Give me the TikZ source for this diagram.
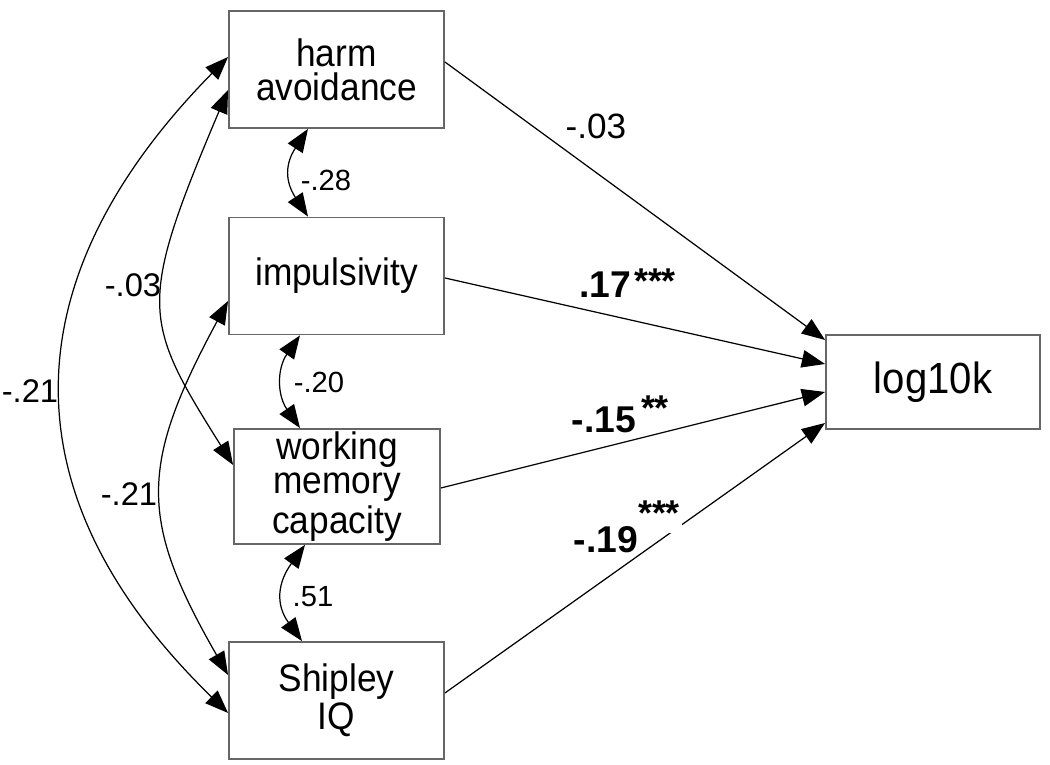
\documentclass[tikz,border=0pt]{standalone}
\usepackage{fontspec}
\setmainfont{Liberation Sans}
\newfontfamily\boxfont[FakeStretch=0.92]{Liberation Sans}
\usepackage{tikz}
\usetikzlibrary{arrows.meta}
\usetikzlibrary{calc}

\begin{document}
\begin{tikzpicture}[x=0.01cm,y=-0.01cm,
    var/.style={draw=black!60,line width=0.5pt,inner sep=0pt,align=center,
      minimum width=2.15cm,minimum height=1.17cm,font=\boxfont\fontsize{10.9}{9.7}\selectfont},
    regpath/.style={line width=0.35pt,-{Triangle[length=6.6pt,width=5pt]}},
    corr/.style={line width=0.35pt,{Triangle[length=6.6pt,width=5pt]}-{Triangle[length=6.6pt,width=5pt]}},
    small/.style={font=\fontsize{8.3}{9.6}\selectfont},
    mid/.style={font=\fontsize{9.3}{10.8}\selectfont},
    coef/.style={anchor=base,font=\fontsize{10.6}{12}\selectfont\bfseries},
    stars/.style={anchor=base,font=\fontsize{10.2}{11}\selectfont\bfseries}]
    \useasboundingbox (0,0) rectangle (1050,765);
    % Boxes
    \node[var] (ha) at (336.5,69.5) {harm\\avoidance};
    \node[var] (imp) at (336.5,276) {impulsivity};
    \node[var,minimum width=2.06cm,minimum height=1.15cm] (wmc) at (337,486.5) {working\\memory\\capacity};
    \node[var,minimum width=2.14cm,minimum height=0.94cm,font=\boxfont\fontsize{12.4}{13}\selectfont] (lk) at (933,382) {log10k};
    \node[var] (sip) at (336.5,700.5) {Shipley\\IQ};
    % Paths to log10k
    \draw[regpath] ($(ha.east)+(0,-7.5)$) -- ($(lk.west)+(0,-42)$);
    \draw[regpath] ($(imp.east)+(0,2)$) -- ($(lk.west)+(0,-18)$);
    \draw[regpath] ($(wmc.east)+(0,1.5)$) -- ($(lk.west)+(0,10)$);
    \draw[regpath] ($(sip.east)+(0,-7.5)$) -- ($(lk.west)+(0,41)$);
    % Correlations, neighbours
    \draw[corr] ($(ha.south)+(-28.5,0)$) .. controls +(-23,35) and +(-23,-35) .. ($(imp.north)+(-28.5,0)$);
    \draw[corr] ($(imp.south)+(-36.5,0)$) .. controls +(-23,33) and +(-23,-33) .. ($(wmc.north)+(-37,0)$);
    \draw[corr] ($(wmc.south)+(-32,0)$) .. controls +(-27,37) and +(-27,-37) .. ($(sip.north)+(-34.5,0)$);
    % Correlations, left side
    \draw[corr] ($(ha.west)+(0,-12.5)$) .. controls +(-221,225) and +(-221,-215) .. ($(sip.west)+(0,12.5)$);
    \draw[corr] ($(ha.west)+(0,20.5)$) .. controls +(-91,215) and +(-91,-145) .. ($(wmc.west)+(0,-21.5)$);
    \draw[corr] ($(imp.west)+(0,25)$) .. controls +(-89,165) and +(-89,-155) .. ($(sip.west)+(0,-25.5)$);
    % Labels
    \node[small] (c1) at (326,180) {-.28};
    \node[small] (c2) at (319,382) {-.20};
    \node[small] (c3) at (313,597) {.51};
    \node[mid] (c4) at (30,391) {-.21};
    \node[mid] (c5) at (133,285) {-.03};
    \node[mid] (c6) at (129,494) {-.21};
    \node[font=\fontsize{10}{11}\selectfont] (b1) at (596,126) {-.03};
    \node[coef] (b2) at (605,298) {.17};
    \node[stars] (s2) at (655,294) {***};
    \node[coef] (b3) at (604,433) {-.15};
    \node[stars] (s3) at (655,421) {**};
    \node[coef] (b4) at (606,553) {-.19};
    \node[stars,fill=white,inner xsep=0.6pt,inner ysep=2pt] (s4) at (659,526) {***};
\end{tikzpicture}
\end{document}
